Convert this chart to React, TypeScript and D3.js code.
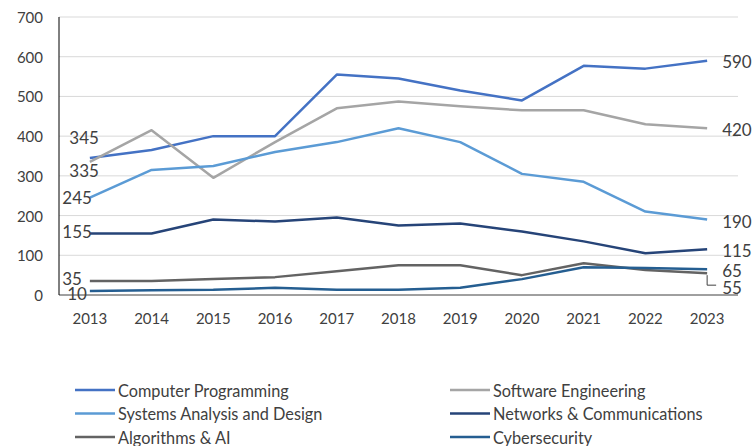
import React from "react";
import * as d3 from "d3";

const years = ["2013","2014","2015","2016","2017","2018","2019","2020","2021","2022","2023"];
const yTicks = [0, 100, 200, 300, 400, 500, 600, 700];

const seriesNames = [
  "Computer Programming",
  "Software Engineering",
  "Systems Analysis and Design",
  "Networks & Communications",
  "Algorithms & AI",
  "Cybersecurity",
];

const computerProgramming = [345, 365, 400, 400, 555, 545, 515, 490, 577, 570, 590];
const softwareEngineering = [335, 415, 295, 385, 470, 487, 475, 465, 465, 430, 420];
const systemsAnalysis = [245, 315, 325, 360, 385, 420, 385, 305, 285, 210, 190];
const networks = [155, 155, 190, 185, 195, 175, 180, 160, 135, 105, 115];
const algorithms = [35, 35, 40, 45, 60, 75, 75, 50, 80, 63, 55];
const cybersecurity = [10, 12, 13, 18, 13, 13, 18, 40, 70, 68, 65];

const seriesValues = [computerProgramming, softwareEngineering, systemsAnalysis, networks, algorithms, cybersecurity];
const colors = ["#4472C4", "#A5A5A5", "#5B9BD5", "#264478", "#636363", "#255E91"];

// label layout (offsets in px relative to the point)
const firstLabelLayout = [
  { dx: 9, dy: -20 },
  { dx: 9, dy: 9 },
  { dx: 2, dy: 0 },
  { dx: 2, dy: -2 },
  { dx: -8, dy: -3 },
  { dx: -3, dy: 2 },
];
const lastLabelLayout = [
  { dy: 1 },
  { dy: 1 },
  { dy: 2 },
  { dy: 1 },
  { dy: 14 },
  { dy: 1 },
];

const W = 756, H = 446;
const left = 59, right = 738, top = 17, bottom = 295;
const font = "Lato, 'Open Sans', sans-serif";

export default function App() {
  const x = d3.scaleBand<string>().domain(years).range([left, right]);
  const cx = (yr: string) => (x(yr) as number) + x.bandwidth() / 2;
  const y = d3.scaleLinear().domain([0, 700]).range([bottom, top]);
  const line = d3.line<number>().x((_, i) => cx(years[i])).y((v) => y(v));

  const lastX = cx(years[years.length - 1]);
  const firstX = cx(years[0]);
  const algLastY = y(algorithms[algorithms.length - 1]);

  return (
    <svg width={W} height={H} style={{ position: "absolute", left: 0, top: 0, background: "#fff" }}>
      {yTicks.filter((t) => t > 0).map((t) => (
        <line key={t} x1={left} x2={right} y1={y(t)} y2={y(t)} stroke="#D9D9D9" strokeWidth={1} />
      ))}
      <line x1={left} x2={right} y1={y(0)} y2={y(0)} stroke="#404040" strokeWidth={1} />
      <line x1={left} x2={left} y1={y(700)} y2={y(0)} stroke="#000" strokeWidth={1} />
      {yTicks.map((t) => (
        <text key={t} x={43} y={y(t)} textAnchor="end" dominantBaseline="central" fontFamily={font} fontSize={15} fill="#404040">
          {t}
        </text>
      ))}
      {years.map((yr) => (
        <text key={yr} x={cx(yr)} y={318} textAnchor="middle" dominantBaseline="central" fontFamily={font} fontSize={15} fill="#404040">
          {yr}
        </text>
      ))}
      {seriesValues.map((vals, i) => (
        <path key={i} d={line(vals) || ""} fill="none" stroke={colors[i]} strokeWidth={2.5} strokeLinejoin="round" />
      ))}
      {seriesValues.map((vals, i) => (
        <text key={"f" + i} x={firstX + firstLabelLayout[i].dx} y={y(vals[0]) + firstLabelLayout[i].dy} textAnchor="end" dominantBaseline="central" fontFamily={font} fontSize={17} fill="#404040">
          {vals[0]}
        </text>
      ))}
      {seriesValues.map((vals, i) => {
        const v = vals[vals.length - 1];
        return (
          <text key={"l" + i} x={lastX + 15} y={y(v) + lastLabelLayout[i].dy} textAnchor="start" dominantBaseline="central" fontFamily={font} fontSize={17} fill="#404040">
            {v}
          </text>
        );
      })}
      <polyline
        points={`${lastX},${algLastY + 2} ${lastX},${algLastY + 12} ${lastX + 9},${algLastY + 12}`}
        fill="none" stroke="#404040" strokeWidth={1}
      />
      {seriesNames.map((name, i) => {
        const col = i % 2;
        const row = Math.floor(i / 2);
        const lx = col === 0 ? 75 : 450;
        const ly = 390 + row * 23.5;
        return (
          <g key={name}>
            <line x1={lx} x2={lx + 40} y1={ly} y2={ly} stroke={colors[i]} strokeWidth={2.5} />
            <text x={lx + 43} y={ly} dominantBaseline="central" fontFamily={font} fontSize={16.3} fill="#404040">
              {name}
            </text>
          </g>
        );
      })}
    </svg>
  );
}
